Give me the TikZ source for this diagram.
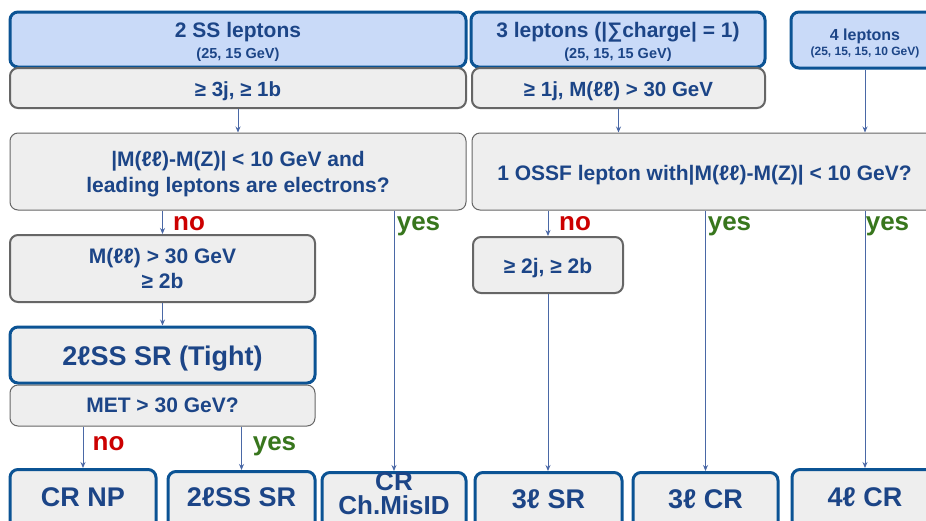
\documentclass[tikz,border=0pt]{standalone}
\usepackage{fontspec}
\setmainfont{Liberation Sans}
\usetikzlibrary{arrows.meta}
\definecolor{tblue}{HTML}{1C4587}
\definecolor{hfill}{HTML}{C9DAF8}
\definecolor{bborder}{HTML}{0B5394}
\definecolor{gfill}{HTML}{EEEEEE}
\definecolor{gborder}{HTML}{666666}
\definecolor{lnc}{HTML}{4A68A6}
\definecolor{nored}{HTML}{CC0000}
\definecolor{yesgreen}{HTML}{38761D}
\newcommand{\fs}[1]{\fontsize{#1}{#1}\selectfont}
\tikzset{
  basebox/.style={rectangle, rounded corners=8pt, inner sep=0pt},
  headbox/.style={basebox, fill=hfill, draw=bborder, line width=3pt},
  cutbox/.style={basebox, fill=gfill, draw=gborder, line width=2pt},
  qbox/.style={basebox, fill=gfill, draw=gborder, line width=1pt},
  endbox/.style={basebox, fill=gfill, draw=bborder, line width=3pt},
  txt/.style={anchor=base, inner sep=0pt, text=tblue, font=\bfseries},
  nolab/.style={anchor=base, inner sep=0pt, text=nored, font=\bfseries\fs{26}},
  yeslab/.style={anchor=base, inner sep=0pt, text=yesgreen, font=\bfseries\fs{26}},
  conn/.style={draw=lnc, line width=0.9pt, -{Stealth[length=6pt,width=5pt]}},
}
\begin{document}
\begin{tikzpicture}[x=1pt,y=-1pt]
\clip (0,0) rectangle (926,520);
\fill[white] (0,0) rectangle (926,520);
% boxes
\node[headbox, minimum width=456pt, minimum height=55pt] (ss2) at (238,39.5) {};
\node[cutbox, minimum width=456pt, minimum height=40pt] (cut1) at (238,88) {};
\node[headbox, minimum width=294pt, minimum height=55pt] (l3) at (618,39.5) {};
\node[cutbox, minimum width=293pt, minimum height=40pt] (cut3) at (618.5,88) {};
\node[headbox, minimum width=148pt, minimum height=56pt] (l4) at (865,40) {};
\node[qbox, minimum width=456pt, minimum height=77pt] (q1) at (238,171.5) {};
\node[qbox, minimum width=465pt, minimum height=77pt] (q2) at (704.5,171.5) {};
\node[cutbox, minimum width=305pt, minimum height=67pt] (mll) at (162.5,268.5) {};
\node[cutbox, minimum width=150pt, minimum height=56pt] (j2b) at (548,265) {};
\node[endbox, minimum width=305pt, minimum height=56pt] (tight) at (162.5,355) {};
\node[qbox, minimum width=305pt, minimum height=41pt] (met) at (162.5,405.5) {};
\node[endbox, anchor=north, minimum width=146pt, minimum height=70pt] (crnp) at (83,468) {};
\node[endbox, anchor=north, minimum width=147pt, minimum height=70pt] (ss2sr) at (241.5,470) {};
\node[endbox, anchor=north, minimum width=144pt, minimum height=70pt] (misid) at (394,471) {};
\node[endbox, anchor=north, minimum width=147pt, minimum height=70pt] (sr3) at (548.5,471) {};
\node[endbox, anchor=north, minimum width=145pt, minimum height=70pt] (cr3) at (705.5,471) {};
\node[endbox, anchor=north, minimum width=146pt, minimum height=70pt] (cr4) at (865,468) {};
% texts
\node[txt, font=\bfseries\fs{21}] (t1) at (238,37.5) {2 SS leptons};
\node[txt, font=\bfseries\fs{14.5}] (t1b) at (238,58) {(25, 15 GeV)};
\node[txt, font=\bfseries\fs{21}] (t2) at (618,37.5) {3 leptons (|∑charge| = 1)};
\node[txt, font=\bfseries\fs{14.5}] (t2b) at (618,58) {(25, 15, 15 GeV)};
\node[txt, font=\bfseries\fs{16}] (t3) at (865,40) {4 leptons};
\node[txt, font=\bfseries\fs{12}] (t3b) at (865,55) {(25, 15, 15, 10 GeV)};
\node[txt, font=\bfseries\fs{20.5}] (c1) at (238,96.7) {≥ 3j, ≥ 1b};
\node[txt, font=\bfseries\fs{20.5}] (c3) at (618.5,96.7) {≥ 1j, M(ℓℓ) > 30 GeV};
\node[txt, font=\bfseries\fs{21}] (q1a) at (238,166.5) {|M(ℓℓ)-M(Z)| < 10 GeV and};
\node[txt, font=\bfseries\fs{21}] (q1b) at (238,192.5) {leading leptons are electrons?};
\node[txt, font=\bfseries\fs{21}] (q2a) at (704.5,180) {1 OSSF lepton with|M(ℓℓ)-M(Z)| < 10 GeV?};
\node[txt, font=\bfseries\fs{21}] (m1) at (162.5,263.3) {M(ℓℓ) > 30 GeV};
\node[txt, font=\bfseries\fs{21}] (m2) at (162.5,288.3) {≥ 2b};
\node[txt, font=\bfseries\fs{21}] (jb) at (548,273.3) {≥ 2j, ≥ 2b};
\node[txt, font=\bfseries\fs{27}] (tt) at (162.5,365.7) {2ℓSS SR (Tight)};
\node[txt, font=\bfseries\fs{21}] (mt) at (162.5,412.3) {MET > 30 GeV?};
\node[txt, font=\bfseries\fs{27}] (e1) at (83,506.7) {CR NP};
\node[txt, font=\bfseries\fs{27}] (e2) at (241.5,506.7) {2ℓSS SR};
\node[txt, font=\bfseries\fs{26}] (e3a) at (394,490) {CR};
\node[txt, font=\bfseries\fs{26}] (e3b) at (394,514.5) {Ch.MisID};
\node[txt, font=\bfseries\fs{27}] (e4) at (548.5,508.3) {3ℓ SR};
\node[txt, font=\bfseries\fs{27}] (e5) at (705.5,508.3) {3ℓ CR};
\node[txt, font=\bfseries\fs{27}] (e6) at (865,506) {4ℓ CR};
% labels
\node[nolab] (n1) at (189,230) {no};
\node[yeslab] (y1) at (418.5,230) {yes};
\node[nolab] (n2) at (108.5,450.7) {no};
\node[yeslab] (y2) at (274.5,450.7) {yes};
\node[nolab] (n3) at (575,230) {no};
\node[yeslab] (y3) at (729.5,230) {yes};
\node[yeslab] (y4) at (887.5,230) {yes};
% connectors
\draw[conn] (cut1.south) -- (q1.north);
\draw[conn] (cut3.south) -- (cut3.south |- q2.north);
\draw[conn] (l4.south) -- (l4.south |- q2.north);
\draw[conn] (q1.south -| mll.north) -- (mll.north);
\draw[conn] (q1.south -| misid.north) -- (misid.north);
\draw[conn] (mll.south) -- (tight.north);
\draw[conn] (met.south -| crnp.north) -- (crnp.north);
\draw[conn] (met.south -| ss2sr.north) -- (ss2sr.north);
\draw[conn] (q2.south -| j2b.north) -- (j2b.north);
\draw[conn] (j2b.south) -- (j2b.south |- sr3.north);
\draw[conn] (q2.south -| cr3.north) -- (cr3.north);
\draw[conn] (q2.south -| cr4.north) -- (cr4.north);
\end{tikzpicture}
\end{document}
